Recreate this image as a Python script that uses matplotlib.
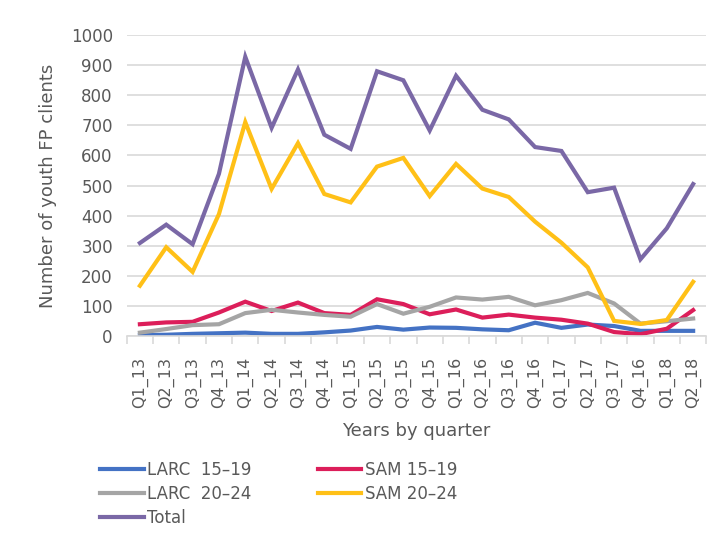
import matplotlib
matplotlib.use("Agg")
import matplotlib.pyplot as plt
import numpy as np

quarters = ["Q1_13", "Q2_13", "Q3_13", "Q4_13", "Q1_14", "Q2_14", "Q3_14", "Q4_14",
            "Q1_15", "Q2_15", "Q3_15", "Q4_15", "Q1_16", "Q2_16", "Q3_16", "Q4_16",
            "Q1_17", "Q2_17", "Q3_17", "Q4_16", "Q1_18", "Q2_18"]

larc_15_19 = [3, 4, 7, 9, 11, 7, 7, 12, 18, 30, 21, 28, 27, 22, 19, 44, 27, 38, 33, 17, 17, 17]
sam_15_19 = [39, 45, 47, 78, 114, 83, 111, 76, 70, 122, 106, 72, 88, 61, 71, 61, 54, 41, 13, 6, 24, 86]
larc_20_24 = [11, 23, 36, 39, 76, 87, 78, 70, 64, 106, 74, 97, 128, 121, 130, 102, 119, 143, 108, 41, 49, 58]
sam_20_24 = [167, 295, 213, 405, 711, 489, 641, 472, 444, 563, 592, 465, 572, 490, 462, 380, 310, 228, 50, 40, 53, 180]
total = [309, 370, 305, 539, 928, 692, 886, 669, 622, 880, 850, 683, 865, 752, 720, 628, 615, 478, 493, 255, 358, 505]

series = [
    ("LARC  15\u201319", larc_15_19, "#4472C4"),
    ("SAM 15\u201319", sam_15_19, "#DC1E5A"),
    ("LARC  20\u201324", larc_20_24, "#A5A5A5"),
    ("SAM 20\u201324", sam_20_24, "#FFC017"),
    ("Total", total, "#7A68A6"),
]

txt = "#595959"
plt.rcParams['font.family'] = ['DejaVu Sans']

fig = plt.figure(figsize=(7.2, 5.41), dpi=100)
ax = fig.add_axes([0.176, 0.379, 0.805, 0.556])

x = np.arange(len(quarters))
handles = {}
for name, vals, col in series:
    h, = ax.plot(x, vals, color=col, lw=3.0, solid_joinstyle='miter', label=name)
    handles[name] = h

ax.set_xlim(-0.5, len(quarters) - 0.5)
ax.set_ylim(0, 1000)
ax.set_yticks(np.arange(0, 1001, 100))
ax.yaxis.grid(True, color="#D9D9D9", lw=1.2)
ax.set_axisbelow(True)
for s in ["top", "right", "left"]:
    ax.spines[s].set_visible(False)
ax.spines["bottom"].set_color("#D9D9D9")
ax.spines["bottom"].set_linewidth(1.2)

ax.set_xticks(x)
ax.set_xticklabels(quarters, rotation=90, fontsize=11.5, color=txt)
ax.tick_params(axis='x', which='major', length=0, pad=15)
ax.set_xticks(np.arange(-0.5, len(quarters), 1), minor=True)
ax.tick_params(axis='x', which='minor', length=6, color="#D9D9D9", width=1.2)
ax.tick_params(axis='y', length=0, labelsize=12, labelcolor=txt, pad=10)

ax.set_xlabel("Years by quarter", fontsize=13, color=txt, labelpad=10)
ax.set_ylabel("Number of youth FP clients", fontsize=13, color=txt, labelpad=10)

order = ["LARC  15\u201319", "LARC  20\u201324", "Total", "SAM 15\u201319", "SAM 20\u201324"]
leg = fig.legend([handles[n] for n in order], order, ncol=2, loc="upper left",
                 bbox_to_anchor=(0.13, 0.16), frameon=False, fontsize=12,
                 handlelength=2.6, handletextpad=0.2, columnspacing=4.0,
                 labelspacing=0.35, borderaxespad=0)
for t in leg.get_texts():
    t.set_color(txt)

fig.savefig("out.png", dpi=100)
